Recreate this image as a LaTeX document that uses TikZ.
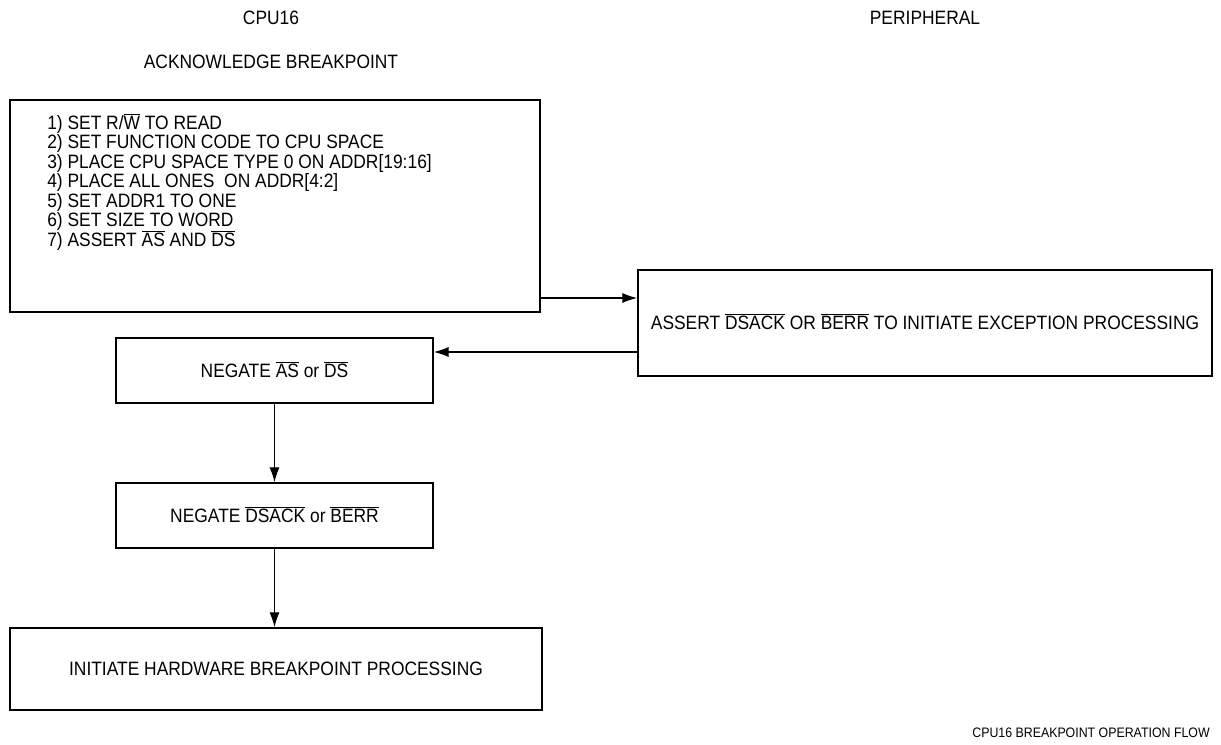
\documentclass[tikz,border=0pt]{standalone}
\usepackage{fontspec}
\setmainfont[FakeStretch=0.9]{Liberation Sans}
\usetikzlibrary{arrows.meta}
\newcommand\ovl[1]{\smash{$\overline{\hbox{#1}}$}}
\begin{document}
\begin{tikzpicture}[x=0.75pt,y=-0.75pt,
  box/.style={draw,line width=1.4pt,inner sep=0pt,font=\fontsize{14.5}{16}\selectfont},
  conn/.style={line width=0.8pt,-{Latex[length=11pt,width=7.5pt]}},
  lbl/.style={font=\fontsize{14.5}{16}\selectfont,inner sep=0pt}]
\useasboundingbox (0,0) rectangle (1221,744);
\node[lbl] (cpu) at (271,18) {CPU16};
\node[lbl] (per) at (925,18) {PERIPHERAL};
\node[lbl] (ack) at (271,62) {ACKNOWLEDGE BREAKPOINT};
\node[box,minimum width=397.5pt,minimum height=159pt] (big) at (275,206) {};
\node[lbl,anchor=north west,align=left,font=\fontsize{14.5}{14.625}\selectfont] (steps) at (47,115) {%
1) SET R/\ovl{W} TO READ\\
2) SET FUNCTION CODE TO CPU SPACE\\
3) PLACE CPU SPACE TYPE 0 ON ADDR[19:16]\\
4) PLACE ALL ONES\ \ ON ADDR[4:2]\\
5) SET ADDR1 TO ONE\\
6) SET SIZE TO WORD\\
7) ASSERT \ovl{AS} AND \ovl{DS}};
\node[box,minimum width=430.5pt,minimum height=79.5pt] (perbox) at (925,323) {ASSERT \ovl{DSACK} OR \ovl{BERR} TO INITIATE EXCEPTION PROCESSING};
\node[box,minimum width=237.75pt,minimum height=48.75pt] (neg1) at (274.5,370.5) {NEGATE \ovl{AS} or \ovl{DS}};
\node[box,minimum width=237.75pt,minimum height=48.75pt] (neg2) at (274.5,515.5) {NEGATE \ovl{DSACK} or \ovl{BERR}};
\node[box,minimum width=399pt,minimum height=61.5pt] (hw) at (276,669) {INITIATE HARDWARE BREAKPOINT PROCESSING};
\node[inner sep=0pt,anchor=east,font=\fontsize{10.3}{11}\selectfont] (foot) at (1210,733) {CPU16 BREAKPOINT OPERATION FLOW};
\coordinate (a1) at (540,298);
\draw[conn] (a1) -- (a1 -| perbox.west);
\coordinate (a2) at (638,352);
\draw[conn] (a2) -- (a2 -| neg1.east);
\draw[conn] (neg1.south) -- (neg2.north);
\draw[conn] (neg2.south) -- (neg2.south |- hw.north);
\end{tikzpicture}
\end{document}
